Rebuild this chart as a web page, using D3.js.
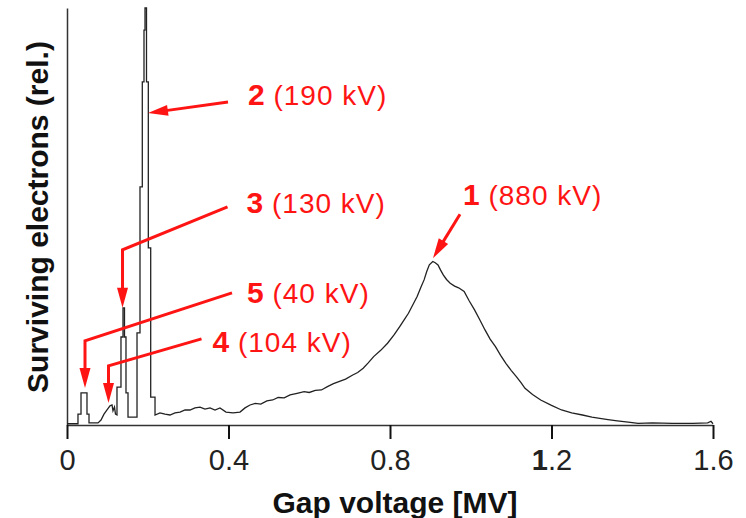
<!DOCTYPE html>
<html>
<head>
<meta charset="utf-8">
<script src="https://cdn.jsdelivr.net/npm/d3@7"></script>
<style>
  body { margin: 0; background: #fff; }
  svg { display: block; font-family: "Liberation Sans", Arial, sans-serif; }
</style>
</head>
<body>
<div id="chart"></div>
<script>
// trace: gap voltage (MV) and surviving electrons (rel.)
const voltage = [
  0, 0.0272, 0.0272, 0.0347, 0.0347, 0.0495, 0.0495, 0.0545, 0.0545, 0.0768,
  0.0842, 0.0916, 0.0991, 0.1065, 0.1115, 0.1139, 0.1176, 0.1201, 0.1238, 0.1238,
  0.1337, 0.1337, 0.1387, 0.1387, 0.1424, 0.1424, 0.1461, 0.1461, 0.1511, 0.1511,
  0.1734, 0.1734, 0.1808, 0.1808, 0.1865, 0.1865, 0.1907, 0.1907, 0.1932, 0.1932,
  0.1969, 0.1969, 0.2014, 0.2014, 0.2073, 0.2073, 0.2180, 0.2180, 0.2303, 0.2427,
  0.2551, 0.2675, 0.2799, 0.2923, 0.3046, 0.3170, 0.3294, 0.3418, 0.3542, 0.3666,
  0.3789, 0.3938, 0.4111, 0.4285, 0.4409, 0.4533, 0.4664, 0.4800, 0.4950, 0.5095,
  0.5230, 0.5380, 0.5526, 0.5700, 0.5871, 0.6000, 0.6150, 0.6302, 0.6450, 0.6600,
  0.6733, 0.6900, 0.7077, 0.7200, 0.7336, 0.7460, 0.7595, 0.7770, 0.7939, 0.8100,
  0.8241, 0.8350, 0.8457, 0.8560, 0.8672, 0.8760, 0.8844, 0.8910, 0.8974, 0.9060,
  0.9120, 0.9189, 0.9250, 0.9319, 0.9400, 0.9491, 0.9600, 0.9700, 0.9836, 0.9960,
  1.0094, 1.0220, 1.0353, 1.0480, 1.0612, 1.0740, 1.0870, 1.1000, 1.1129, 1.1240,
  1.1344, 1.1530, 1.1732, 1.2000, 1.2249, 1.2500, 1.2767, 1.3000, 1.3197, 1.3400,
  1.3629, 1.3900, 1.4146, 1.4500, 1.5000, 1.5500, 1.5870, 1.5950, 1.6000
];
const signal = [
  0.3, 0.3, 2.6, 2.6, 7.7, 7.7, 2.6, 2.6, 0.5, 0.5,
  1.2, 2.6, 3.6, 4.6, 4.8, 3.4, 4.3, 2.6, 2.4, 9.1,
  9.1, 21.1, 21.1, 28.1, 28.1, 21.1, 21.1, 7.7, 7.7, 1.9,
  1.9, 22.1, 22.1, 57.1, 57.1, 82.3, 82.3, 94.7, 94.7, 100,
  100, 82.3, 82.3, 42.5, 42.5, 6.7, 6.7, 2.4, 2.9, 2.6,
  2.4, 2.9, 3.1, 3.6, 3.6, 4.1, 4.3, 3.8, 4.1, 3.6,
  4.1, 3.1, 2.9, 3.1, 4.1, 4.8, 5.2, 5.0, 5.8, 6.0,
  6.6, 6.5, 7.2, 7.6, 8.0, 7.8, 8.3, 8.4, 9.2, 9.9,
  10.4, 11.0, 12.0, 12.6, 13.6, 14.9, 16.4, 17.9, 19.6, 21.6,
  23.6, 25.2, 26.8, 28.7, 30.8, 32.9, 34.8, 36.8, 38.4, 39.2,
  38.9, 38.4, 37.2, 36.0, 34.9, 34.0, 33.3, 32.9, 32.0, 29.8,
  27.6, 25.3, 22.8, 20.6, 18.8, 16.7, 14.8, 13.1, 11.6, 10.2,
  8.8, 7.3, 6.0, 4.7, 3.6, 2.9, 2.4, 1.9, 1.6, 1.3,
  1.0, 0.7, 0.4, 0.5, 0.4, 0.4, 0.5, 0.9, 0.3
];

const xTicks = [0, 0.4, 0.8, 1.2, 1.6];

// marked peaks
const peakNum = ["1", "2", "3", "4", "5"];
const peakText = ["(880 kV)", "(190 kV)", "(130 kV)", "(104 kV)", "(40 kV)"];
const peakV = [0.9065, 0.2006, 0.1375, 0.1028, 0.0446];
const peakS = [40.0, 74.8, 28.1, 5.3, 8.9];

const width = 746, height = 518;
const red = "#ff1414";

const svg = d3.select("#chart").append("svg")
  .attr("width", width)
  .attr("height", height);

const x = d3.scaleLinear().domain([0, 1.6]).range([67, 713]);
const y = d3.scaleLinear().domain([0, 100]).range([425, 8]);

// y axis, no ticks
const yAxis = svg.append("g")
  .attr("transform", "translate(" + x(0) + ",0)")
  .call(d3.axisLeft(y).ticks(0).tickSize(0));
yAxis.select(".domain").attr("stroke", "#333").attr("stroke-width", 1.5);

// x axis
const xAxis = svg.append("g")
  .attr("transform", "translate(0," + y(0) + ")")
  .call(d3.axisBottom(x)
    .tickValues(xTicks)
    .tickSize(14)
    .tickSizeOuter(0)
    .tickFormat(d => d === 0 ? "0" : d3.format(".1f")(d)));
xAxis.select(".domain").attr("stroke", "#333").attr("stroke-width", 1.5);
xAxis.selectAll(".tick line").attr("stroke", "#111").attr("stroke-width", 2);
xAxis.selectAll(".tick text")
  .attr("y", 45)
  .attr("dy", 0)
  .attr("fill", "#222")
  .style("font-size", "29px");
// the scan has a heavier "1" in 1.2
xAxis.selectAll(".tick text").filter(d => d === 1.2).each(function() {
  const t = d3.select(this).text(null);
  t.append("tspan").style("font-weight", "bold").text("1");
  t.append("tspan").text(".2");
});

// axis titles
svg.append("text")
  .attr("transform", "translate(48,217) rotate(-90)")
  .attr("text-anchor", "middle")
  .style("font-size", "30px")
  .style("font-weight", "bold")
  .attr("fill", "#111")
  .text("Surviving electrons (rel.)");

svg.append("text")
  .attr("x", (x(0) + x(1.6)) / 2 + 5)
  .attr("y", 513)
  .attr("text-anchor", "middle")
  .style("font-size", "30px")
  .style("font-weight", "bold")
  .attr("fill", "#111")
  .text("Gap voltage [MV]");

// trace
const line = d3.line()
  .x(i => x(voltage[i]))
  .y(i => y(signal[i]));

svg.append("path")
  .datum(d3.range(voltage.length))
  .attr("d", line)
  .attr("fill", "none")
  .attr("stroke", "#222")
  .attr("stroke-width", 1.3);

// arrow layout: pixel offsets from the arrow tip (start, optional elbow) and label
const arrowLayout = [
  { path: [[27, -44]], label: [30, -53] },
  { path: [[80, -11]], label: [100, -8] },
  { path: [[105, -101], [0, -58]], label: [124, -95] },
  { path: [[93, -64], [0, -37]], label: [104, -51] },
  { path: [[147, -95], [0, -47]], label: [162, -85] }
];

const headLen = 20, headHalf = 5.5;

peakNum.forEach((num, i) => {
  const tx = x(peakV[i]), ty = y(peakS[i]);
  const lay = arrowLayout[i];
  const pts = lay.path.map(p => [tx + p[0], ty + p[1]]);
  const prev = pts[pts.length - 1];
  const dx = tx - prev[0], dy = ty - prev[1];
  const len = Math.hypot(dx, dy);
  const ux = dx / len, uy = dy / len;
  const bx = tx - ux * (headLen - 2), by = ty - uy * (headLen - 2);
  pts.push([bx, by]);

  svg.append("path")
    .attr("d", d3.line()(pts))
    .attr("fill", "none")
    .attr("stroke", red)
    .attr("stroke-width", 3)
    .attr("stroke-linejoin", "miter");

  const hx = tx - ux * headLen, hy = ty - uy * headLen;
  svg.append("path")
    .attr("d", d3.line()([
      [tx, ty],
      [hx - uy * headHalf, hy + ux * headHalf],
      [hx + uy * headHalf, hy - ux * headHalf]
    ]) + "Z")
    .attr("fill", red);

  const t = svg.append("text")
    .attr("x", tx + lay.label[0])
    .attr("y", ty + lay.label[1])
    .attr("fill", red);
  t.append("tspan")
    .style("font-size", "30px")
    .style("font-weight", "bold")
    .text(num);
  t.append("tspan")
    .style("font-size", "28px")
    .style("letter-spacing", "1px")
    .text(" " + peakText[i]);
});
</script>
</body>
</html>
